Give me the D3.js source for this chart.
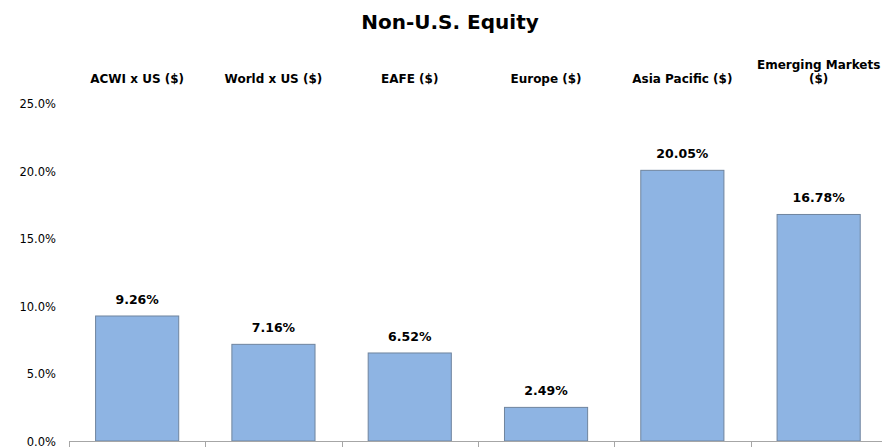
<!DOCTYPE html>
<meta charset="utf-8">
<style>
body { margin: 0; background: #fff; }
text { font-family: "DejaVu Sans", Verdana, sans-serif; fill: #000; }
.cat { font-weight: bold; font-size: 12px; }
.val { font-weight: bold; font-size: 12.5px; }
.ytick { font-size: 11.5px; }
</style>
<svg width="882" height="448"></svg>
<script src="https://d3js.org/d3.v7.min.js"></script>
<script>

var categories = ["ACWI x US ($)", "World x US ($)", "EAFE ($)", "Europe ($)", "Asia Pacific ($)", "Emerging Markets ($)"];
var categoryLines = [["ACWI x US ($)"], ["World x US ($)"], ["EAFE ($)"], ["Europe ($)"], ["Asia Pacific ($)"], ["Emerging Markets", "($)"]];
var returns = [9.26, 7.16, 6.52, 2.49, 20.05, 16.78];
var yTicks = [0, 5, 10, 15, 20, 25];

var svg = d3.select("svg");

var x = d3.scaleBand()
    .domain(categories)
    .range([69, 69 + 136.3 * 6])
    .paddingInner(0.39)
    .paddingOuter(0.195);

var y = d3.scaleLinear()
    .domain([0, 25])
    .range([441, 103.5]);

// title
svg.append("text")
    .attr("x", 450)
    .attr("y", 29)
    .attr("text-anchor", "middle")
    .style("font-size", "20px")
    .style("font-weight", "bold")
    .text("Non-U.S. Equity");

// y tick labels (no axis line)
svg.append("g").selectAll("text")
    .data(yTicks)
    .enter().append("text")
      .attr("class", "ytick")
      .attr("x", 56)
      .attr("y", function(d) { return y(d) + 4.5; })
      .attr("text-anchor", "end")
      .text(function(d) { return d.toFixed(1) + "%"; });

// bars
svg.append("g").selectAll("rect")
    .data(returns)
    .enter().append("rect")
      .attr("x", function(d, i) { return x(categories[i]); })
      .attr("y", function(d) { return y(d); })
      .attr("width", x.bandwidth())
      .attr("height", function(d) { return y(0) - y(d); })
      .attr("fill", "#8eb4e3")
      .attr("stroke", "#6f849e")
      .attr("stroke-width", 1);

// value labels
svg.append("g").selectAll("text")
    .data(returns)
    .enter().append("text")
      .attr("class", "val")
      .attr("x", function(d, i) { return x(categories[i]) + x.bandwidth() / 2; })
      .attr("y", function(d) { return y(d) - 12; })
      .attr("text-anchor", "middle")
      .text(function(d) { return d.toFixed(2) + "%"; });

// x axis baseline with ticks at band edges
var axis = svg.append("g");
axis.append("line")
    .attr("x1", 69).attr("x2", 882)
    .attr("y1", y(0) + 0.5).attr("y2", y(0) + 0.5)
    .attr("stroke", "#a6a6a6");
axis.selectAll(".tk")
    .data(categories)
    .enter().append("line")
      .attr("class", "tk")
      .attr("x1", function(d) { return Math.round(x(d) - x.step() * x.paddingOuter()) + 0.5; })
      .attr("x2", function(d) { return Math.round(x(d) - x.step() * x.paddingOuter()) + 0.5; })
      .attr("y1", y(0))
      .attr("y2", y(0) + 6)
      .attr("stroke", "#a6a6a6");

// category labels at top
var cat = svg.append("g").selectAll("text")
    .data(categoryLines)
    .enter().append("text")
      .attr("class", "cat")
      .attr("text-anchor", "middle")
      .attr("x", function(d, i) { return x(categories[i]) + x.bandwidth() / 2; })
      .attr("y", function(d) { return 83 - (d.length - 1) * 14; });
cat.selectAll("tspan")
    .data(function(d) { return d; })
    .enter().append("tspan")
      .attr("x", function() { return d3.select(this.parentNode).attr("x"); })
      .attr("dy", function(d, i) { return i === 0 ? 0 : 14; })
      .text(function(d) { return d; });

</script>
